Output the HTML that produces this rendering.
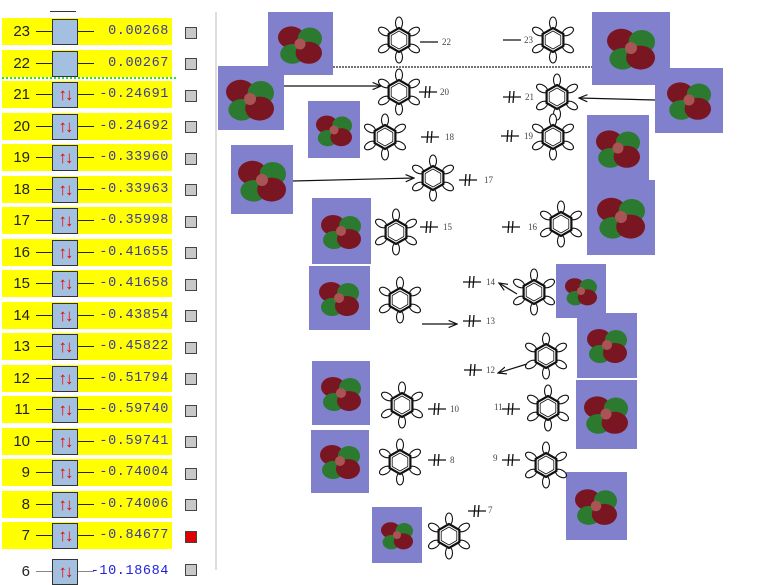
<!DOCTYPE html>
<html><head><meta charset="utf-8"><style>
body{margin:0;width:781px;height:570px;overflow:hidden;background:#fff;font-family:"Liberation Sans",sans-serif;position:relative}
.row{position:absolute;left:2px;width:170px;height:27px;background:#ffff00}
.n{position:absolute;left:0;width:28px;text-align:right;top:5px;font-size:15px;color:#222}
.ln{position:absolute;top:13px;height:1px;background:#222}
.bx{position:absolute;left:50px;top:1px;width:24px;height:24px;background:#a4c0e0;border:1px solid #333;color:#e00;font-size:17px;line-height:24px;text-align:center;letter-spacing:-2px}
.v{position:absolute;right:3px;top:6px;font-family:"Liberation Mono",monospace;font-size:13.5px;color:#3a3aa0;letter-spacing:0.6px}
.cb{position:absolute;left:185px;width:10px;height:10px;background:#c8c8c8;border:1px solid #444}
</style></head><body>
<div style="position:absolute;left:50px;top:11px;width:26px;height:1px;background:#333"></div>
<div class="row" style="top:18px"><span class="n">23</span><div class="ln" style="left:34px;width:58px"></div><div class="bx"></div><span class="v">0.00268</span></div>
<div class="row" style="top:50px"><span class="n">22</span><div class="ln" style="left:34px;width:58px"></div><div class="bx"></div><span class="v">0.00267</span></div>
<div style="position:absolute;left:2px;top:77px;width:174px;border-top:2px dotted #2ee02e"></div>
<div class="row" style="top:81px"><span class="n">21</span><div class="ln" style="left:34px;width:58px"></div><div class="bx">↑↓</div><span class="v">-0.24691</span></div>
<div class="row" style="top:113px"><span class="n">20</span><div class="ln" style="left:34px;width:58px"></div><div class="bx">↑↓</div><span class="v">-0.24692</span></div>
<div class="row" style="top:144px"><span class="n">19</span><div class="ln" style="left:34px;width:58px"></div><div class="bx">↑↓</div><span class="v">-0.33960</span></div>
<div class="row" style="top:176px"><span class="n">18</span><div class="ln" style="left:34px;width:58px"></div><div class="bx">↑↓</div><span class="v">-0.33963</span></div>
<div class="row" style="top:207px"><span class="n">17</span><div class="ln" style="left:34px;width:58px"></div><div class="bx">↑↓</div><span class="v">-0.35998</span></div>
<div class="row" style="top:239px"><span class="n">16</span><div class="ln" style="left:34px;width:58px"></div><div class="bx">↑↓</div><span class="v">-0.41655</span></div>
<div class="row" style="top:270px"><span class="n">15</span><div class="ln" style="left:34px;width:58px"></div><div class="bx">↑↓</div><span class="v">-0.41658</span></div>
<div class="row" style="top:302px"><span class="n">14</span><div class="ln" style="left:34px;width:58px"></div><div class="bx">↑↓</div><span class="v">-0.43854</span></div>
<div class="row" style="top:333px"><span class="n">13</span><div class="ln" style="left:34px;width:58px"></div><div class="bx">↑↓</div><span class="v">-0.45822</span></div>
<div class="row" style="top:365px"><span class="n">12</span><div class="ln" style="left:34px;width:58px"></div><div class="bx">↑↓</div><span class="v">-0.51794</span></div>
<div class="row" style="top:396px"><span class="n">11</span><div class="ln" style="left:34px;width:58px"></div><div class="bx">↑↓</div><span class="v">-0.59740</span></div>
<div class="row" style="top:428px"><span class="n">10</span><div class="ln" style="left:34px;width:58px"></div><div class="bx">↑↓</div><span class="v">-0.59741</span></div>
<div class="row" style="top:459px"><span class="n">9</span><div class="ln" style="left:34px;width:58px"></div><div class="bx">↑↓</div><span class="v">-0.74004</span></div>
<div class="row" style="top:491px"><span class="n">8</span><div class="ln" style="left:34px;width:58px"></div><div class="bx">↑↓</div><span class="v">-0.74006</span></div>
<div class="row" style="top:522px"><span class="n">7</span><div class="ln" style="left:34px;width:58px"></div><div class="bx">↑↓</div><span class="v">-0.84677</span></div>
<div class="row" style="top:558px;background:#fff"><span class="n">6</span><div class="ln" style="left:34px;width:58px;background:#888"></div><div class="bx">↑↓</div><span class="v" style="color:#2222dd">-10.18684</span></div>
<div class="cb" style="top:27px"></div><div class="cb" style="top:58px"></div><div class="cb" style="top:90px"></div><div class="cb" style="top:121px"></div><div class="cb" style="top:153px"></div><div class="cb" style="top:184px"></div><div class="cb" style="top:216px"></div><div class="cb" style="top:247px"></div><div class="cb" style="top:279px"></div><div class="cb" style="top:310px"></div><div class="cb" style="top:342px"></div><div class="cb" style="top:373px"></div><div class="cb" style="top:405px"></div><div class="cb" style="top:436px"></div><div class="cb" style="top:468px"></div><div class="cb" style="top:499px"></div><div class="cb" style="top:531px;background:#e00000"></div><div class="cb" style="top:564px"></div>
<div style="position:absolute;left:215px;top:12px;width:2px;height:558px;background:#ddd"></div>

<svg width="781" height="570" style="position:absolute;left:0;top:0" font-family="Liberation Serif,serif" font-size="9" fill="#444">
<defs>
<g id="r" fill="#fff" stroke="#111" stroke-width="1.1">
<ellipse cx="0" cy="-17" rx="3.5" ry="6"/><ellipse cx="0" cy="17" rx="3.5" ry="6"/>
<ellipse cx="15" cy="-8.5" rx="3.5" ry="6" transform="rotate(60 15 -8.5)"/><ellipse cx="-15" cy="8.5" rx="3.5" ry="6" transform="rotate(60 -15 8.5)"/>
<ellipse cx="15" cy="8.5" rx="3.5" ry="6" transform="rotate(-60 15 8.5)"/><ellipse cx="-15" cy="-8.5" rx="3.5" ry="6" transform="rotate(-60 -15 -8.5)"/>
<polygon points="0,-12 10.4,-6 10.4,6 0,12 -10.4,6 -10.4,-6" fill="none" stroke-width="2.2"/>
<polygon points="0,-9 7.8,-4.5 7.8,4.5 0,9 -7.8,4.5 -7.8,-4.5" fill="none" stroke-width="0.8"/>
</g>
<g id="lv" stroke="#111" stroke-width="1.3"><line x1="0" y1="0" x2="18" y2="0"/><line x1="7" y1="-6" x2="6" y2="6"/><line x1="11" y1="-6" x2="10" y2="6"/></g>
<marker id="a" markerWidth="8" markerHeight="8" refX="7" refY="4" orient="auto"><path d="M0,1 L7,4 L0,7" fill="none" stroke="#111"/></marker>
<g id="m"><ellipse cx="-8" cy="-6" rx="12" ry="10" fill="#7a1522"/><ellipse cx="9" cy="-5" rx="11" ry="10" fill="#2c7a30"/><ellipse cx="-7" cy="9" rx="11" ry="9" fill="#2c7a30"/><ellipse cx="8" cy="8" rx="12" ry="10" fill="#7a1522"/><circle cx="0" cy="0" r="5" fill="#a55"/></g>
</defs>
<g fill="#8080cc">
<rect x="268" y="12" width="65" height="63"/><rect x="218" y="66" width="66" height="64"/><rect x="308" y="101" width="52" height="57"/><rect x="231" y="145" width="62" height="69"/><rect x="312" y="198" width="59" height="66"/><rect x="309" y="266" width="61" height="64"/><rect x="312" y="361" width="58" height="64"/><rect x="311" y="430" width="58" height="63"/><rect x="372" y="507" width="50" height="56"/>
<rect x="592" y="12" width="78" height="73"/><rect x="655" y="68" width="68" height="65"/><rect x="587" y="115" width="62" height="66"/><rect x="587" y="180" width="68" height="75"/><rect x="556" y="264" width="50" height="54"/><rect x="577" y="313" width="60" height="65"/><rect x="576" y="380" width="61" height="69"/><rect x="566" y="472" width="61" height="68"/>
</g>
<use href="#m" transform="translate(300,44) scale(1.1)"/><use href="#m" transform="translate(250,99) scale(1.2)"/><use href="#m" transform="translate(334,130) scale(0.9)"/><use href="#m" transform="translate(262,180) scale(1.2)"/><use href="#m" transform="translate(341,231) scale(1)"/><use href="#m" transform="translate(339,298) scale(1)"/><use href="#m" transform="translate(341,393) scale(1)"/><use href="#m" transform="translate(340,461) scale(1)"/><use href="#m" transform="translate(397,535) scale(0.8)"/>
<use href="#m" transform="translate(631,48) scale(1.2)"/><use href="#m" transform="translate(689,100) scale(1.1)"/><use href="#m" transform="translate(618,148) scale(1.1)"/><use href="#m" transform="translate(621,217) scale(1.2)"/><use href="#m" transform="translate(581,291) scale(0.8)"/><use href="#m" transform="translate(607,345) scale(1)"/><use href="#m" transform="translate(606,414) scale(1.1)"/><use href="#m" transform="translate(596,506) scale(1.05)"/>
<line x1="333" y1="67" x2="592" y2="67" stroke="#222" stroke-dasharray="2,1" stroke-width="1.2"/>
<use href="#r" x="399" y="40"/><use href="#r" x="553" y="40"/><use href="#r" x="399" y="92"/><use href="#r" x="557" y="97"/><use href="#r" x="385" y="137"/><use href="#r" x="553" y="137"/><use href="#r" x="433" y="178"/><use href="#r" x="396" y="232"/><use href="#r" x="561" y="224"/><use href="#r" x="400" y="300"/><use href="#r" x="534" y="292"/><use href="#r" x="546" y="356"/><use href="#r" x="402" y="405"/><use href="#r" x="548" y="408"/><use href="#r" x="400" y="462"/><use href="#r" x="546" y="465"/><use href="#r" x="449" y="536"/>
<line x1="420" y1="42" x2="438" y2="42" stroke="#111" stroke-width="1.2"/><text x="442" y="45">22</text>
<line x1="503" y1="40" x2="521" y2="40" stroke="#111" stroke-width="1.2"/><text x="524" y="43">23</text>
<use href="#lv" x="419" y="92"/><text x="440" y="95">20</text>
<use href="#lv" x="503" y="97"/><text x="525" y="100">21</text>
<use href="#lv" x="421" y="137"/><text x="445" y="140">18</text>
<use href="#lv" x="501" y="136"/><text x="524" y="139">19</text>
<use href="#lv" x="459" y="180"/><text x="484" y="183">17</text>
<use href="#lv" x="420" y="227"/><text x="443" y="230">15</text>
<use href="#lv" x="502" y="227"/><text x="528" y="230">16</text>
<use href="#lv" x="463" y="282"/><text x="486" y="285">14</text>
<use href="#lv" x="463" y="321"/><text x="486" y="324">13</text>
<use href="#lv" x="464" y="370"/><text x="486" y="373">12</text>
<use href="#lv" x="428" y="409"/><text x="450" y="412">10</text>
<use href="#lv" x="502" y="409"/><text x="494" y="410">11</text>
<use href="#lv" x="428" y="460"/><text x="450" y="463">8</text>
<use href="#lv" x="502" y="460"/><text x="493" y="461">9</text>
<use href="#lv" x="468" y="511"/><text x="488" y="513">7</text>
<g stroke="#111" stroke-width="1.2" marker-end="url(#a)">
<line x1="284" y1="86" x2="381" y2="86"/><line x1="293" y1="181" x2="414" y2="178"/><line x1="422" y1="324" x2="457" y2="324"/><line x1="517" y1="294" x2="499" y2="283"/><line x1="527" y1="364" x2="498" y2="373"/><line x1="655" y1="100" x2="579" y2="98"/>
</g>
</svg>
</body></html>
